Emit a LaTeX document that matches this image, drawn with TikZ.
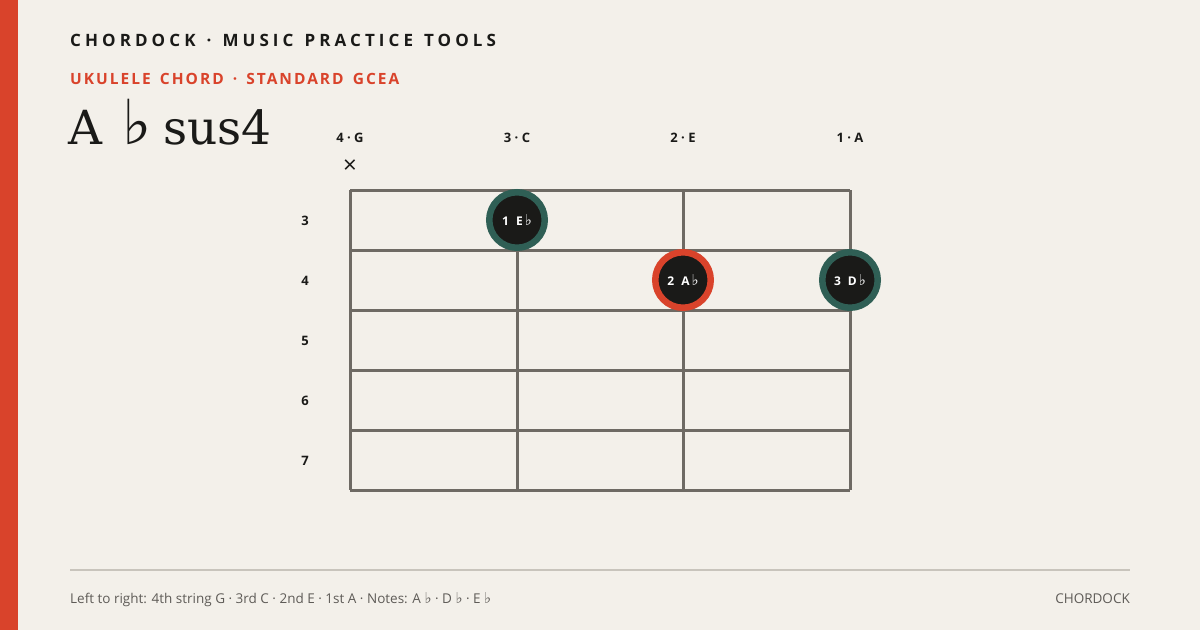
\documentclass[tikz,border=0pt]{standalone}
\usepackage{fontspec}
\setmainfont{Open Sans}
\newfontfamily\headfont[LetterSpace=24,WordSpace=1.3]{Open Sans}
\newfontfamily\subfont[LetterSpace=13,WordSpace=1.5]{Open Sans}
\newfontfamily\titlefont{DejaVu Serif}
\newfontfamily\flatfont{DejaVu Sans}
\newcommand{\bigfl}[1]{{\flatfont\fontsize{#1}{#1}\selectfont ♭}}
\definecolor{paper}{HTML}{F3F0EA}
\definecolor{brandred}{HTML}{D9432B}
\definecolor{ringgreen}{HTML}{2F5F55}
\definecolor{ink}{HTML}{1A1A18}
\definecolor{fretgray}{HTML}{6E6A64}
\definecolor{rulegray}{HTML}{C8C4BC}
\definecolor{footgray}{HTML}{5E5B57}
\begin{document}
\begin{tikzpicture}[x=1pt,y=-1pt,
  txt/.style={inner sep=0pt, anchor=base west},
  strlbl/.style={inner sep=0pt, anchor=base, text=ink, font=\bfseries\fontsize{13}{15}\selectfont},
  fretno/.style={inner sep=0pt, anchor=center, text=ink, font=\bfseries\fontsize{13}{15}\selectfont},
  fret/.style={draw=fretgray, line width=3pt},
  fing/.style={circle, fill=ink, draw=#1, line width=6.5pt, minimum size=55.5pt, inner sep=0pt,
    text=white, font=\bfseries\fontsize{12}{14}\selectfont},
]
  \useasboundingbox (0,0) rectangle (1200,630);
  \fill[paper] (0,0) rectangle (1200,630);
  \fill[brandred] (0,0) rectangle (18,630);

  \node[txt, text=ink] (brand) at (70,46) {\headfont\bfseries\fontsize{17}{20}\selectfont CHORDOCK · MUSIC PRACTICE TOOLS};
  \node[txt, text=brandred] (kind) at (70,84) {\subfont\bfseries\fontsize{15.5}{18}\selectfont UKULELE CHORD · STANDARD GCEA};
  \node[txt, text=ink] (name) at (68,144) {\titlefont\fontsize{47}{50}\selectfont A\hspace{20pt}\bigfl{62}\hspace{12pt}sus4};

  \node[strlbl] (sg) at (350,142) {4 · G};
  \node[strlbl] (sc) at (517,142) {3 · C};
  \node[strlbl] (se) at (683,142) {2 · E};
  \node[strlbl] (sa) at (850,142) {1 · A};
  \node[inner sep=0pt, text=ink, font=\fontsize{24}{26}\selectfont] (mute) at (350,167) {×};

  \draw[fret] (350,190) -- (850,190);
  \draw[fret] (350,250) -- (850,250);
  \draw[fret] (350,310) -- (850,310);
  \draw[fret] (350,370) -- (850,370);
  \draw[fret] (350,430) -- (850,430);
  \draw[fret] (350,490) -- (850,490);
  \draw[fret] (350,190) -- (350,490);
  \draw[fret] (517,190) -- (517,490);
  \draw[fret] (683,190) -- (683,490);
  \draw[fret] (850,190) -- (850,490);

  \node[fretno] (f3) at (305,221) {3};
  \node[fretno] (f4) at (305,281) {4};
  \node[fretno] (f5) at (305,341) {5};
  \node[fretno] (f6) at (305,401) {6};
  \node[fretno] (f7) at (305,461) {7};

  \node[fing=ringgreen] (d1) at (517,220) {1\hspace{7pt}E\,\bigfl{15}};
  \node[fing=brandred] (d2) at (683,280) {2\hspace{7pt}A\,\bigfl{15}};
  \node[fing=ringgreen] (d3) at (850,280) {3\hspace{7pt}D\,\bigfl{15}};

  \coordinate (rl) at (70,570);
  \coordinate (rr) at (1130,570);
  \draw[rulegray, line width=2pt] (rl) -- (rr);
  \node[txt, text=footgray, font=\fontsize{13.5}{16}\selectfont] (note) at (70,603)
    {Left to right: 4th string G · 3rd C · 2nd E · 1st A · Notes: A \bigfl{15}\ · D \bigfl{15}\ · E \bigfl{15}};
  \node[inner sep=0pt, anchor=base east, text=footgray, font=\fontsize{13.5}{16}\selectfont] (mark) at (1130,603) {CHORDOCK};
\end{tikzpicture}
\end{document}
